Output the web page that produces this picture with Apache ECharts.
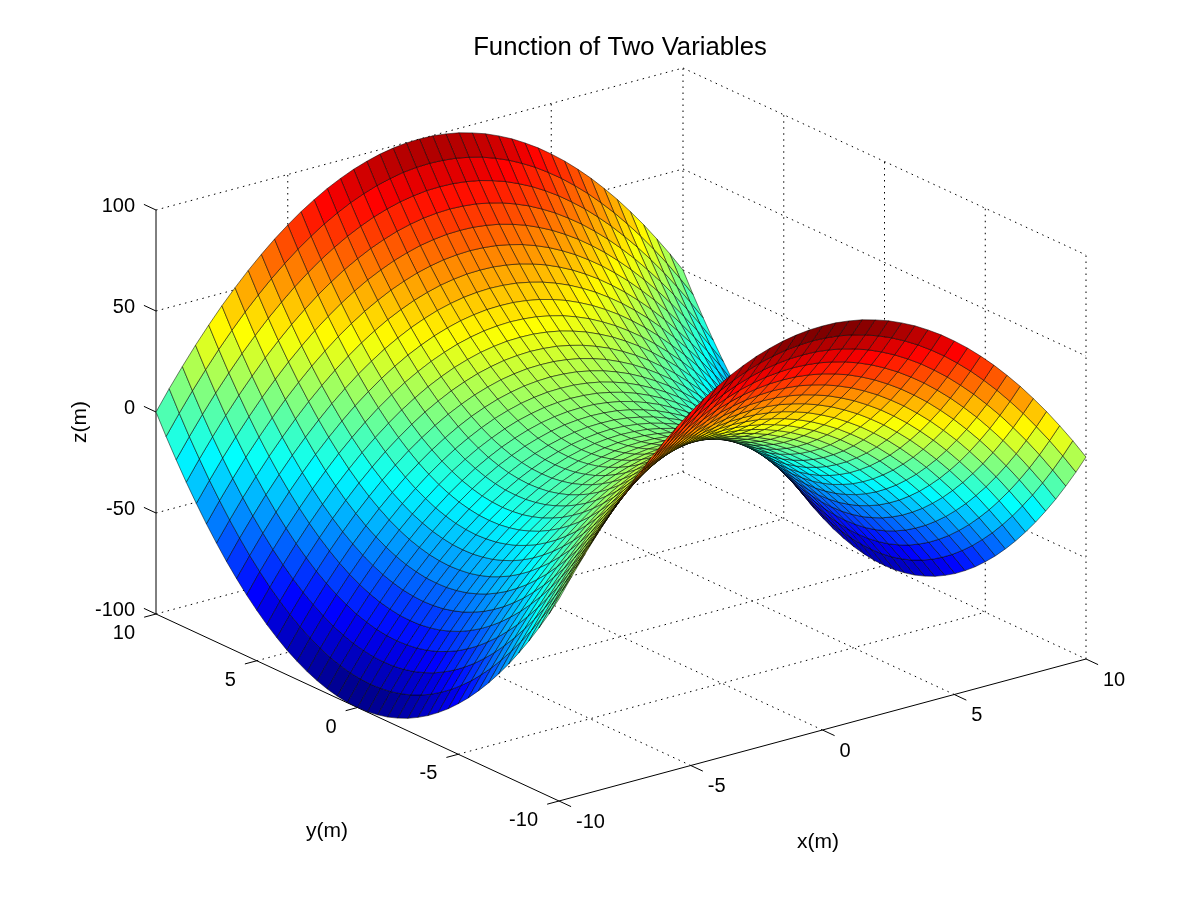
<!DOCTYPE html>
<html><head><meta charset="utf-8">
<style>html,body{margin:0;padding:0;background:#fff}#c{width:1200px;height:900px}</style>
<script src="https://cdn.jsdelivr.net/npm/echarts@6/dist/echarts.min.js"></script>
</head><body><div id="c"></div>
<script>
const chartTitle = 'Function of Two Variables';
const xTicks = [-10, -5, 0, 5, 10];
const yTicks = [-10, -5, 0, 5, 10];
const zTicks = [-100, -50, 0, 50, 100];
const xValues = [-10,-9.5,-9,-8.5,-8,-7.5,-7,-6.5,-6,-5.5,-5,-4.5,-4,-3.5,-3,-2.5,-2,-1.5,-1,-0.5,0,0.5,1,1.5,2,2.5,3,3.5,4,4.5,5,5.5,6,6.5,7,7.5,8,8.5,9,9.5,10];
const yValues = xValues;
// Height read for one quadrant of the surface (rows y=-10..0, columns x=-10..0); the sheet is mirror-symmetric.
const zQuarter = [
[0,9.8,19,27.8,36,43.8,51,57.8,64,69.8,75,79.8,84,87.8,91,93.8,96,97.8,99,99.8,100],
[-9.8,0,9.3,18,26.3,34,41.3,48,54.3,60,65.3,70,74.3,78,81.3,84,86.3,88,89.3,90,90.3],
[-19,-9.3,0,8.8,17,24.8,32,38.8,45,50.8,56,60.8,65,68.8,72,74.8,77,78.8,80,80.8,81],
[-27.8,-18,-8.8,0,8.3,16,23.3,30,36.3,42,47.3,52,56.3,60,63.3,66,68.3,70,71.3,72,72.3],
[-36,-26.3,-17,-8.3,0,7.8,15,21.8,28,33.8,39,43.8,48,51.8,55,57.8,60,61.8,63,63.8,64],
[-43.8,-34,-24.8,-16,-7.8,0,7.3,14,20.3,26,31.3,36,40.3,44,47.3,50,52.3,54,55.3,56,56.3],
[-51,-41.3,-32,-23.3,-15,-7.3,0,6.8,13,18.8,24,28.8,33,36.8,40,42.8,45,46.8,48,48.8,49],
[-57.8,-48,-38.8,-30,-21.8,-14,-6.8,0,6.3,12,17.3,22,26.3,30,33.3,36,38.3,40,41.3,42,42.3],
[-64,-54.3,-45,-36.3,-28,-20.3,-13,-6.3,0,5.8,11,15.8,20,23.8,27,29.8,32,33.8,35,35.8,36],
[-69.8,-60,-50.8,-42,-33.8,-26,-18.8,-12,-5.8,0,5.3,10,14.3,18,21.3,24,26.3,28,29.3,30,30.3],
[-75,-65.3,-56,-47.3,-39,-31.3,-24,-17.3,-11,-5.3,0,4.8,9,12.8,16,18.8,21,22.8,24,24.8,25],
[-79.8,-70,-60.8,-52,-43.8,-36,-28.8,-22,-15.8,-10,-4.8,0,4.3,8,11.3,14,16.3,18,19.3,20,20.3],
[-84,-74.3,-65,-56.3,-48,-40.3,-33,-26.3,-20,-14.3,-9,-4.3,0,3.8,7,9.8,12,13.8,15,15.8,16],
[-87.8,-78,-68.8,-60,-51.8,-44,-36.8,-30,-23.8,-18,-12.8,-8,-3.8,0,3.3,6,8.3,10,11.3,12,12.3],
[-91,-81.3,-72,-63.3,-55,-47.3,-40,-33.3,-27,-21.3,-16,-11.3,-7,-3.3,0,2.8,5,6.8,8,8.8,9],
[-93.8,-84,-74.8,-66,-57.8,-50,-42.8,-36,-29.8,-24,-18.8,-14,-9.8,-6,-2.8,0,2.3,4,5.3,6,6.3],
[-96,-86.3,-77,-68.3,-60,-52.3,-45,-38.3,-32,-26.3,-21,-16.3,-12,-8.3,-5,-2.3,0,1.8,3,3.8,4],
[-97.8,-88,-78.8,-70,-61.8,-54,-46.8,-40,-33.8,-28,-22.8,-18,-13.8,-10,-6.8,-4,-1.8,0,1.3,2,2.3],
[-99,-89.3,-80,-71.3,-63,-55.3,-48,-41.3,-35,-29.3,-24,-19.3,-15,-11.3,-8,-5.3,-3,-1.3,0,0.8,1],
[-99.8,-90,-80.8,-72,-63.8,-56,-48.8,-42,-35.8,-30,-24.8,-20,-15.8,-12,-8.8,-6,-3.8,-2,-0.8,0,0.3],
[-100,-90.3,-81,-72.3,-64,-56.3,-49,-42.3,-36,-30.3,-25,-20.3,-16,-12.3,-9,-6.3,-4,-2.3,-1,-0.3,0]
];
const jetColors = ['#000090','#0000ff','#0080ff','#00ffff','#80ff80','#ffff00','#ff8000','#ff0000','#800000'];

// Orthographic view of the box (MATLAB default az -37.5, el 30)
const view = { ox: 559, oy: 801, xx: 26.35, xy: -7.1, yx: -20.15, yy: -9.35, zy: -2.02 };
function project(x, y, z) {
  return [
    view.ox + view.xx * (x + 10) + view.yx * (y + 10),
    view.oy + view.xy * (x + 10) + view.yy * (y + 10) + view.zy * (z + 100)
  ];
}
function depth(x, y, z) { return -0.527 * x / 20 - 0.687 * y / 20 + 0.5 * z / 200; }

const mirror = k => (k <= 20 ? k : 40 - k);
const zAt = (i, j) => zQuarter[mirror(j)][mirror(i)];

const faces = [];
for (let j = 0; j < yValues.length - 1; j++) {
  for (let i = 0; i < xValues.length - 1; i++) {
    const z00 = zAt(i, j), z10 = zAt(i + 1, j), z11 = zAt(i + 1, j + 1), z01 = zAt(i, j + 1);
    const d = depth((xValues[i] + xValues[i + 1]) / 2, (yValues[j] + yValues[j + 1]) / 2, (z00 + z10 + z11 + z01) / 4);
    faces.push({ d, v: [i, j, z00, z10, z11, z01] });
  }
}
faces.sort((a, b) => a.d - b.d);
const surfaceData = faces.map(f => f.v);

const floorZ = zTicks[0], topZ = zTicks[zTicks.length - 1];
const xMin = xTicks[0], xMax = xTicks[xTicks.length - 1], yMin = yTicks[0], yMax = yTicks[yTicks.length - 1];

// Dotted box grid: floor lines, wall verticals, wall levels; shared edges only once
const gridSegs = [];
xTicks.forEach(x => {
  if (x !== xMin && x !== xMax) gridSegs.push([x, yMin, floorZ, x, yMax, floorZ]);
  if (x !== xMin) gridSegs.push([x, yMax, floorZ, x, yMax, topZ]);
});
yTicks.forEach(y => {
  if (y !== yMin && y !== yMax) gridSegs.push([xMin, y, floorZ, xMax, y, floorZ]);
  if (y !== yMax) gridSegs.push([xMax, y, floorZ, xMax, y, topZ]);
});
zTicks.forEach(z => {
  gridSegs.push([xMin, yMax, z, xMax, yMax, z]);
  gridSegs.push([xMax, yMax, z, xMax, yMin, z]);
});

const axisSegs = [
  [xMin, yMin, floorZ, xMax, yMin, floorZ],
  [xMin, yMin, floorZ, xMin, yMax, floorZ],
  [xMin, yMax, floorZ, xMin, yMax, topZ]
];
xTicks.forEach(x => axisSegs.push([x, yMin, floorZ, x, yMin - 0.6, floorZ]));
yTicks.forEach(y => axisSegs.push([xMin, y, floorZ, xMin - 0.45, y, floorZ]));
zTicks.forEach(z => axisSegs.push([xMin, yMax, z, xMin, yMax + 0.6, z]));

const tickTexts = [];
xTicks.forEach(x => tickTexts.push({ text: String(x), p: [x, yMin, floorZ], dx: 17, dy: 21, align: 'left' }));
yTicks.forEach(y => tickTexts.push({ text: String(y), p: [xMin, y, floorZ], dx: -21, dy: 19.5, align: 'right' }));
zTicks.forEach(z => tickTexts.push({ text: String(z), p: [xMin, yMax, z], dx: -21, dy: -4, align: 'right' }));
const nameTexts = [
  { text: 'x(m)', at: [818, 842], rot: 0 },
  { text: 'y(m)', at: [327, 831], rot: 0 },
  { text: 'z(m)', at: [80, 422], rot: Math.PI / 2 }
];

const font = 'Liberation Sans';
function segRenderer(style) {
  return function (params, api) {
    const a = api.coord(project(api.value(0), api.value(1), api.value(2)));
    const b = api.coord(project(api.value(3), api.value(4), api.value(5)));
    return { type: 'line', silent: true, shape: { x1: a[0], y1: a[1], x2: b[0], y2: b[1] }, style };
  };
}

const option = {
  animation: false,
  backgroundColor: '#ffffff',
  title: {
    text: chartTitle, left: 615, top: 30, textAlign: 'center',
    textStyle: { fontFamily: font, fontSize: 25.7, fontWeight: 'normal', color: '#000' }
  },
  grid: { left: 0, right: 0, top: 0, bottom: 0 },
  xAxis: { type: 'value', min: 0, max: 1200, show: false },
  yAxis: { type: 'value', min: 0, max: 900, inverse: true, show: false },
  tooltip: { show: false },
  visualMap: {
    show: false, type: 'continuous', min: -100, max: 100, dimension: 2, seriesIndex: 2,
    inRange: { color: jetColors }
  },
  series: [
    {
      type: 'custom', name: 'grid', z: 1, silent: true, clip: false, animation: false,
      data: gridSegs,
      renderItem: segRenderer({ stroke: '#000', lineWidth: 1, lineDash: [1.5, 4.5], fill: null })
    },
    {
      type: 'custom', name: 'axes', z: 2, silent: true, clip: false, animation: false,
      data: axisSegs,
      renderItem: segRenderer({ stroke: '#000', lineWidth: 1, fill: null })
    },
    {
      type: 'custom', name: 'surface', z: 3, silent: true, clip: false, animation: false,
      progressive: 0,
      dimensions: ['i', 'j', 'z00', 'z10', 'z11', 'z01'],
      encode: { x: 0, y: 1 },
      data: surfaceData,
      renderItem(params, api) {
        const i = api.value(0), j = api.value(1);
        const corners = [
          [xValues[i], yValues[j], api.value(2)],
          [xValues[i + 1], yValues[j], api.value(3)],
          [xValues[i + 1], yValues[j + 1], api.value(4)],
          [xValues[i], yValues[j + 1], api.value(5)]
        ];
        return {
          type: 'polygon', silent: true,
          shape: { points: corners.map(c => api.coord(project(c[0], c[1], c[2]))) },
          style: { fill: api.visual('color'), stroke: 'rgba(0,0,0,0.85)', lineWidth: 0.6, lineJoin: 'round' }
        };
      }
    },
    {
      type: 'custom', name: 'tickLabels', z: 4, silent: true, clip: false, animation: false,
      data: tickTexts.map((t, k) => [k, 0]),
      renderItem(params, api) {
        const t = tickTexts[api.value(0)];
        const c = api.coord(project(t.p[0], t.p[1], t.p[2]));
        return {
          type: 'text', silent: true, x: c[0] + t.dx, y: c[1] + t.dy,
          style: { text: t.text, fill: '#000', font: '20px "Liberation Sans"', textAlign: t.align, textVerticalAlign: 'middle' }
        };
      }
    },
    {
      type: 'custom', name: 'axisNames', z: 4, silent: true, clip: false, animation: false,
      data: nameTexts.map((t, k) => [k, 0]),
      renderItem(params, api) {
        const t = nameTexts[api.value(0)];
        const c = api.coord(t.at);
        return {
          type: 'text', silent: true, x: c[0], y: c[1], rotation: t.rot,
          style: { text: t.text, fill: '#000', font: '21px "Liberation Sans"', textAlign: 'center', textVerticalAlign: 'middle' }
        };
      }
    }
  ]
};
const chart = echarts.init(document.getElementById('c'), null, { renderer: 'canvas' });
chart.setOption(option);
</script></body></html>
